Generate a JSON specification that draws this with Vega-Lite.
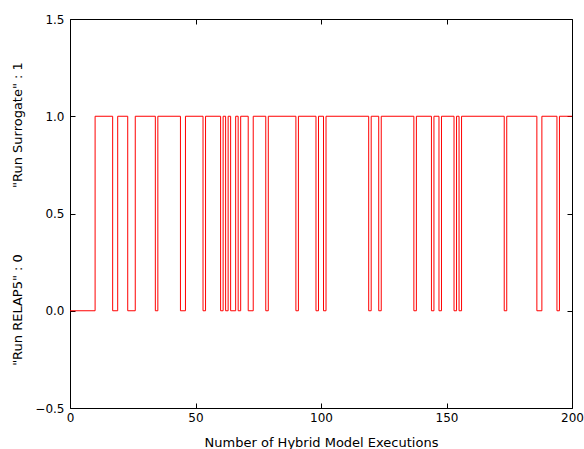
{
  "$schema": "https://vega.github.io/schema/vega-lite/v6.json",
  "width": 502,
  "height": 389,
  "autosize": "none",
  "padding": {"left": 70, "top": 19, "right": 12, "bottom": 41},
  "background": "white",
  "config": {
    "view": {"stroke": "black", "strokeWidth": 1},
    "font": "DejaVu Sans",
    "axis": {
      "labelFont": "DejaVu Sans",
      "titleFont": "DejaVu Sans",
      "labelFontSize": 12,
      "titleFontSize": 13,
      "titleFontWeight": "normal",
      "labelColor": "black",
      "titleColor": "black",
      "tickColor": "black",
      "domainColor": "black",
      "grid": false,
      "tickSize": -5,
      "tickWidth": 1
    }
  },
  "data": {
    "values": [
      {"x": 0, "y": 0}, {"x": 10, "y": 1}, {"x": 17, "y": 0}, {"x": 19, "y": 1},
      {"x": 23, "y": 0}, {"x": 26, "y": 1}, {"x": 34, "y": 0}, {"x": 35, "y": 1},
      {"x": 44, "y": 0}, {"x": 46, "y": 1}, {"x": 53, "y": 0}, {"x": 54, "y": 1},
      {"x": 60, "y": 0}, {"x": 61, "y": 1}, {"x": 62, "y": 0}, {"x": 63, "y": 1},
      {"x": 64, "y": 0}, {"x": 66, "y": 1}, {"x": 67, "y": 0}, {"x": 68, "y": 1},
      {"x": 71, "y": 0}, {"x": 73, "y": 1}, {"x": 78, "y": 0}, {"x": 79, "y": 1},
      {"x": 90, "y": 0}, {"x": 91, "y": 1}, {"x": 98, "y": 0}, {"x": 99, "y": 1},
      {"x": 101, "y": 0}, {"x": 102, "y": 1}, {"x": 119, "y": 0}, {"x": 120, "y": 1},
      {"x": 123, "y": 0}, {"x": 124, "y": 1}, {"x": 137, "y": 0}, {"x": 138, "y": 1},
      {"x": 144, "y": 0}, {"x": 145, "y": 1}, {"x": 147, "y": 0}, {"x": 148, "y": 1},
      {"x": 153, "y": 0}, {"x": 154, "y": 1}, {"x": 155, "y": 0}, {"x": 156, "y": 1},
      {"x": 173, "y": 0}, {"x": 174, "y": 1}, {"x": 186, "y": 0}, {"x": 188, "y": 1},
      {"x": 194, "y": 0}, {"x": 195, "y": 1}, {"x": 200, "y": 1}
    ]
  },
  "layer": [
    {
      "mark": {"type": "line", "interpolate": "step-after", "color": "#ff0000", "strokeWidth": 1, "clip": true},
      "encoding": {
        "x": {
          "field": "x", "type": "quantitative",
          "scale": {"domain": [0, 200], "nice": false, "zero": false},
          "axis": {"values": [0, 50, 100, 150, 200], "title": "Number of Hybrid Model Executions", "labelPadding": 9, "titlePadding": 13, "labelFlush": false, "domain": false}
        },
        "y": {
          "field": "y", "type": "quantitative",
          "scale": {"domain": [-0.5, 1.5], "nice": false, "zero": false},
          "axis": {"values": [-0.5, 0, 0.5, 1, 1.5], "format": ".1f", "title": "\"Run RELAP5\" : 0\u00a0\u00a0\u00a0\u00a0\u00a0\u00a0\u00a0\u00a0\u00a0\u00a0\u00a0\u00a0\u00a0\u00a0\u00a0\u00a0\"Run Surrogate\" : 1", "labelPadding": 11, "titlePadding": 10, "labelFlush": false, "domain": false}
        }
      }
    },
    {
      "mark": {"type": "line", "opacity": 0},
      "encoding": {
        "x": {
          "field": "x", "type": "quantitative",
          "scale": {"domain": [0, 200], "nice": false, "zero": false},
          "axis": {"orient": "top", "values": [0, 50, 100, 150, 200], "labels": false, "title": null, "domain": false}
        },
        "y": {
          "field": "y", "type": "quantitative",
          "scale": {"domain": [-0.5, 1.5], "nice": false, "zero": false},
          "axis": {"orient": "right", "values": [-0.5, 0, 0.5, 1, 1.5], "labels": false, "title": null, "domain": false}
        }
      }
    }
  ],
  "resolve": {"axis": {"x": "independent", "y": "independent"}}
}
